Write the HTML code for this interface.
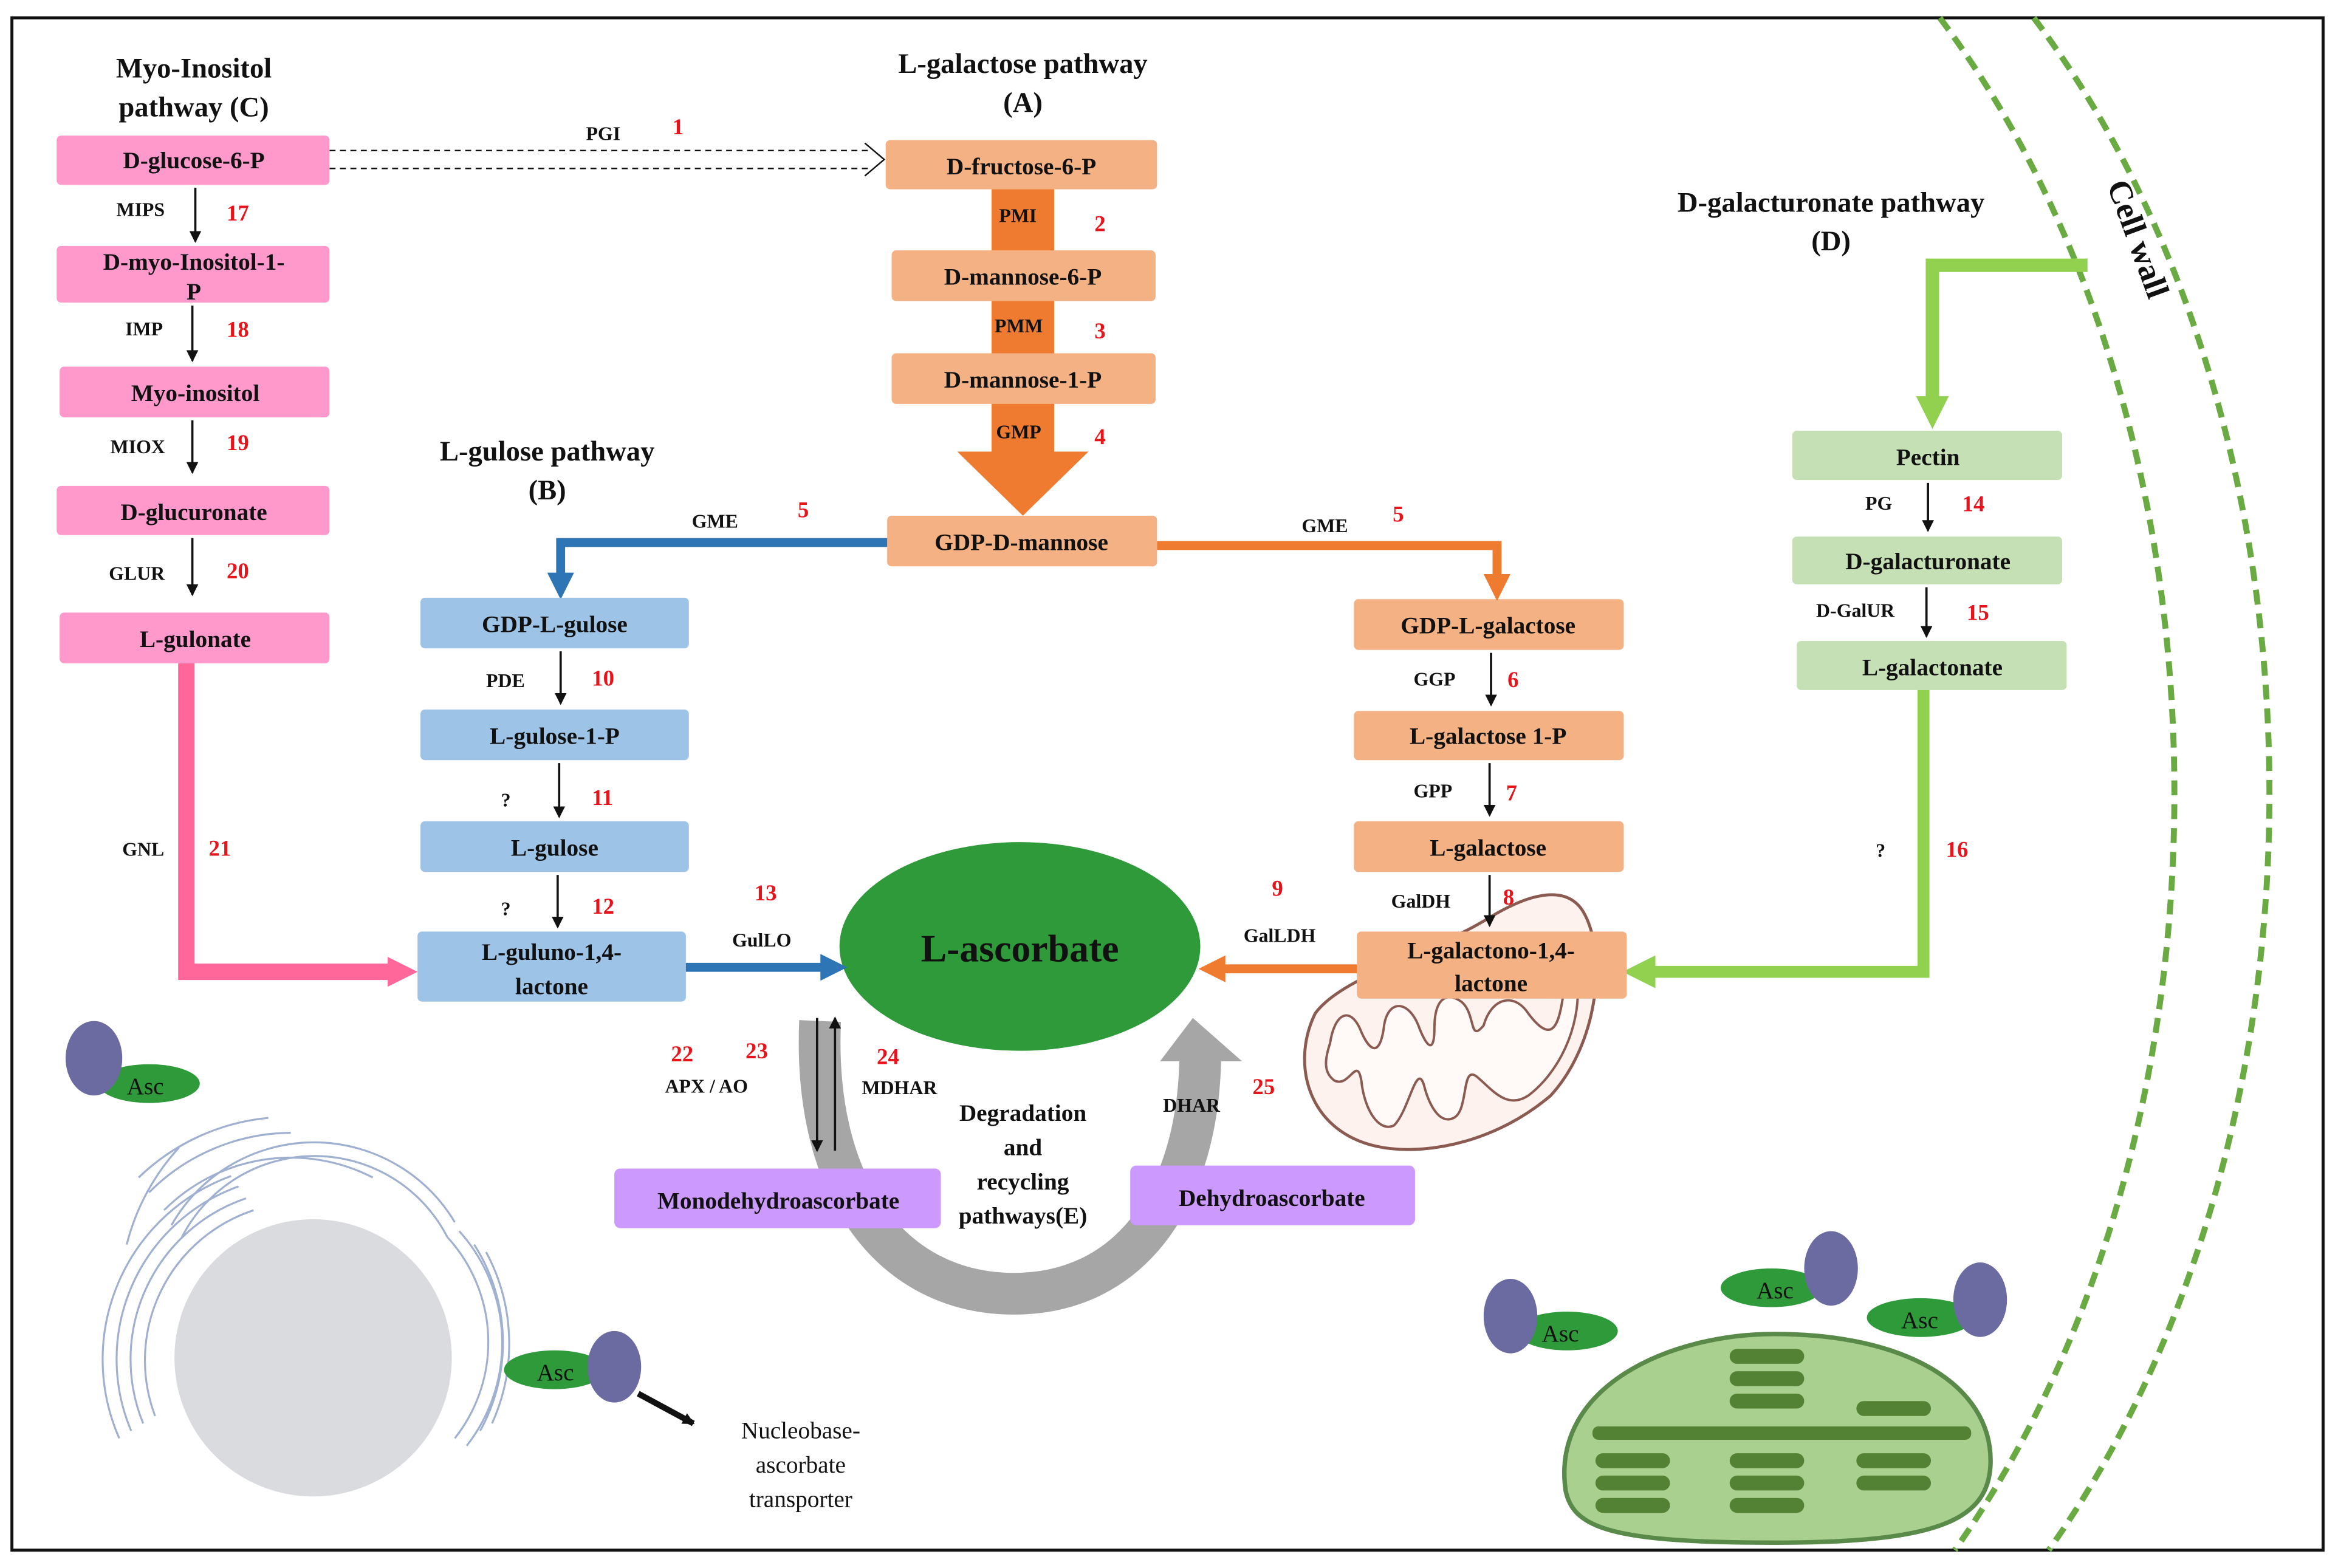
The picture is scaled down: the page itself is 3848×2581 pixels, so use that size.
<!DOCTYPE html>
<html><head><meta charset="utf-8"><style>
html,body{margin:0;padding:0;background:#fff}
svg{display:block}
text{font-family:"Liberation Serif",serif;font-weight:bold;fill:#111}
.n{fill:#e8141c;font-size:15px}
.e{font-size:13px}
.b{font-size:16px;text-anchor:middle}
.h{font-size:19px;text-anchor:middle}
</style></head><body>
<svg width="3848" height="2581" viewBox="0 0 1568 1052" preserveAspectRatio="none" xmlns="http://www.w3.org/2000/svg">
<defs>
<marker id="ak" markerWidth="8" markerHeight="8" refX="7" refY="4" orient="auto" markerUnits="userSpaceOnUse"><path d="M0,0 L8,4 L0,8 z" fill="#111"/></marker>
<marker id="ao" viewBox="0 0 10 10" markerWidth="18" markerHeight="18" refX="1" refY="5" orient="auto" markerUnits="userSpaceOnUse"><path d="M0,0 L10,5 L0,10 z" fill="#ee7b30"/></marker>
<marker id="ab" viewBox="0 0 10 10" markerWidth="18" markerHeight="18" refX="1" refY="5" orient="auto" markerUnits="userSpaceOnUse"><path d="M0,0 L10,5 L0,10 z" fill="#2e75b6"/></marker>
<marker id="ap" viewBox="0 0 10 10" markerWidth="20" markerHeight="20" refX="1" refY="5" orient="auto" markerUnits="userSpaceOnUse"><path d="M0,0 L10,5 L0,10 z" fill="#ff6699"/></marker>
<marker id="ag" viewBox="0 0 10 10" markerWidth="22" markerHeight="22" refX="1" refY="5" orient="auto" markerUnits="userSpaceOnUse"><path d="M0,0 L10,5 L0,10 z" fill="#92d050"/></marker>
</defs>
<rect x="8" y="12" width="1550" height="1028" fill="#fff" stroke="#111" stroke-width="2"/>
<!-- cell wall -->
<path d="M1301,12 C1509,290 1509,760 1311,1040" fill="none" stroke="#6aaa42" stroke-width="4" stroke-dasharray="10,6"/>
<path d="M1364,12 C1573,290 1573,760 1374,1040" fill="none" stroke="#6aaa42" stroke-width="4" stroke-dasharray="10,6"/>
<text x="1413" y="124" font-size="22" transform="rotate(70 1413 124)">Cell wall</text>
<!-- titles -->
<text class="h" x="130" y="52">Myo-Inositol</text><text class="h" x="130" y="78">pathway (C)</text>
<text class="h" x="686" y="49">L-galactose pathway</text><text class="h" x="686" y="75">(A)</text>
<text class="h" x="367" y="309">L-gulose pathway</text><text class="h" x="367" y="335">(B)</text>
<text class="h" x="1228" y="142">D-galacturonate pathway</text><text class="h" x="1228" y="168">(D)</text>
<!-- PGI dashed -->
<path d="M221,101 H585 M221,113 H585" stroke="#111" stroke-dasharray="4,3" stroke-width="1"/>
<path d="M580,96 L593,107 L580,118" fill="none" stroke="#111"/>
<text class="e" x="393" y="94">PGI</text><text class="n" x="451" y="90">1</text>
<!-- orange thick column -->
<rect x="665" y="125" width="42" height="180" fill="#ee7b30"/>
<path d="M642,303 H730 L686,346 z" fill="#ee7b30"/>
<!-- pink boxes -->
<g fill="#ff99cc">
<rect x="38" y="91" width="183" height="33" rx="3"/><rect x="38" y="165" width="183" height="38" rx="3"/>
<rect x="40" y="246" width="181" height="34" rx="3"/><rect x="38" y="326" width="183" height="33" rx="3"/><rect x="40" y="411" width="181" height="34" rx="3"/></g>
<text class="b" x="130" y="113">D-glucose-6-P</text>
<text class="b" x="130" y="181">D-myo-Inositol-1-</text><text class="b" x="130" y="201">P</text>
<text class="b" x="131" y="269">Myo-inositol</text>
<text class="b" x="130" y="349">D-glucuronate</text>
<text class="b" x="131" y="434">L-gulonate</text>
<g stroke="#111" stroke-width="1.5" marker-end="url(#ak)">
<line x1="131" y1="126" x2="131" y2="162"/><line x1="129" y1="205" x2="129" y2="242"/>
<line x1="129" y1="282" x2="129" y2="317"/><line x1="129" y1="361" x2="129" y2="399"/></g>
<text class="e" x="78" y="145">MIPS</text><text class="n" x="152" y="148">17</text>
<text class="e" x="84" y="225">IMP</text><text class="n" x="152" y="226">18</text>
<text class="e" x="74" y="304">MIOX</text><text class="n" x="152" y="302">19</text>
<text class="e" x="73" y="389">GLUR</text><text class="n" x="152" y="388">20</text>
<path d="M125,445 V652 H262" fill="none" stroke="#ff6699" stroke-width="11" marker-end="url(#ap)"/>
<text class="e" x="82" y="574">GNL</text><text class="n" x="140" y="574">21</text>
<!-- mitochondrion -->
<path d="M882,680 C900,655 960,640 1000,615 C1030,597 1052,595 1062,612 C1078,640 1072,700 1040,735 C1005,765 960,775 928,770 C878,762 865,715 882,680 z" fill="#fdf2ee" stroke="#8b5a50" stroke-width="2"/>
<path d="M892,700 C895,680 905,675 912,690 C918,705 925,710 928,690 C930,670 945,670 952,690 C958,705 962,705 962,690 C962,670 970,665 980,672 C990,680 985,700 995,688 C1000,670 1015,665 1025,680 C1040,700 1045,690 1048,670 C1052,650 1058,645 1058,660 C1060,690 1045,720 1025,735 C1010,745 1000,730 990,722 C980,715 985,745 975,750 C965,755 958,740 955,728 C950,712 945,745 935,755 C925,760 915,745 913,725 C910,708 905,730 895,725 C888,720 888,712 892,700 z" fill="#fffaf8" stroke="#8b5a50" stroke-width="1.6"/>
<!-- green -->
<path d="M1400,178 H1296 V268" fill="none" stroke="#92d050" stroke-width="9" marker-end="url(#ag)"/>
<g fill="#c5e0b4">
<rect x="1202" y="289" width="181" height="33" rx="3"/><rect x="1202" y="360" width="181" height="32" rx="3"/><rect x="1205" y="430" width="181" height="33" rx="3"/></g>
<text class="b" x="1293" y="312">Pectin</text>
<text class="b" x="1293" y="382">D-galacturonate</text>
<text class="b" x="1296" y="453">L-galactonate</text>
<text class="e" x="1251" y="342">PG</text><text class="n" x="1316" y="343">14</text>
<text class="e" x="1218" y="414">D-GalUR</text><text class="n" x="1319" y="416">15</text>
<text class="e" x="1258" y="575">?</text><text class="n" x="1305" y="575">16</text>
<g stroke="#111" stroke-width="1.5" marker-end="url(#ak)">
<line x1="1293" y1="324" x2="1293" y2="356"/><line x1="1292" y1="394" x2="1292" y2="427"/></g>
<path d="M1290,463 V652 H1108" fill="none" stroke="#92d050" stroke-width="8" marker-end="url(#ag)"/>
<!-- orange boxes -->
<g fill="#f4b183">
<rect x="594" y="94" width="182" height="33" rx="3"/><rect x="598" y="168" width="177" height="34" rx="3"/>
<rect x="598" y="237" width="177" height="34" rx="3"/><rect x="595" y="346" width="181" height="34" rx="3"/>
<rect x="908" y="402" width="181" height="34" rx="3"/><rect x="908" y="477" width="181" height="33" rx="3"/>
<rect x="908" y="551" width="181" height="34" rx="3"/><rect x="910" y="625" width="181" height="45" rx="3"/></g>
<text class="b" x="685" y="117">D-fructose-6-P</text>
<text class="b" x="686" y="191">D-mannose-6-P</text>
<text class="b" x="686" y="260">D-mannose-1-P</text>
<text class="b" x="685" y="369">GDP-D-mannose</text>
<text class="b" x="998" y="425">GDP-L-galactose</text>
<text class="b" x="998" y="499">L-galactose 1-P</text>
<text class="b" x="998" y="574">L-galactose</text>
<text class="b" x="1000" y="643">L-galactono-1,4-</text><text class="b" x="1000" y="665">lactone</text>
<text class="e" x="670" y="149">PMI</text><text class="n" x="734" y="155">2</text>
<text class="e" x="667" y="223">PMM</text><text class="n" x="734" y="227">3</text>
<text class="e" x="668" y="294">GMP</text><text class="n" x="734" y="298">4</text>
<!-- GME arrows -->
<path d="M595,364 H376 V386" fill="none" stroke="#2e75b6" stroke-width="6" marker-end="url(#ab)"/>
<path d="M776,366 H1004 V387" fill="none" stroke="#ee7b30" stroke-width="6" marker-end="url(#ao)"/>
<text class="e" x="464" y="354">GME</text><text class="n" x="535" y="347">5</text>
<text class="e" x="873" y="357">GME</text><text class="n" x="934" y="350">5</text>
<!-- blue boxes -->
<g fill="#9dc3e6">
<rect x="282" y="401" width="180" height="34" rx="3"/><rect x="282" y="476" width="180" height="34" rx="3"/>
<rect x="282" y="551" width="180" height="34" rx="3"/><rect x="280" y="625" width="180" height="47" rx="3"/></g>
<text class="b" x="372" y="424">GDP-L-gulose</text>
<text class="b" x="372" y="499">L-gulose-1-P</text>
<text class="b" x="372" y="574">L-gulose</text>
<text class="b" x="370" y="644">L-guluno-1,4-</text><text class="b" x="370" y="667">lactone</text>
<g stroke="#111" stroke-width="1.5" marker-end="url(#ak)">
<line x1="376" y1="437" x2="376" y2="472"/><line x1="375" y1="512" x2="375" y2="548"/><line x1="374" y1="587" x2="374" y2="622"/>
<line x1="1000" y1="438" x2="1000" y2="473"/><line x1="999" y1="512" x2="999" y2="547"/><line x1="999" y1="587" x2="999" y2="621"/></g>
<text class="e" x="326" y="461">PDE</text><text class="n" x="397" y="460">10</text>
<text class="e" x="336" y="541">?</text><text class="n" x="397" y="540">11</text>
<text class="e" x="336" y="614">?</text><text class="n" x="397" y="613">12</text>
<text class="e" x="948" y="460">GGP</text><text class="n" x="1011" y="461">6</text>
<text class="e" x="948" y="535">GPP</text><text class="n" x="1010" y="537">7</text>
<text class="e" x="933" y="609">GalDH</text><text class="n" x="1008" y="607">8</text>
<!-- ascorbate -->
<ellipse cx="684" cy="635" rx="121" ry="70" fill="#2e9a3a"/>
<text x="684" y="645" font-size="26" text-anchor="middle">L-ascorbate</text>
<line x1="460" y1="649" x2="552" y2="649" stroke="#2e75b6" stroke-width="6" marker-end="url(#ab)"/>
<line x1="910" y1="650" x2="820" y2="650" stroke="#ee7b30" stroke-width="6" marker-end="url(#ao)"/>
<text class="n" x="506" y="604">13</text><text class="e" x="491" y="635">GulLO</text>
<text class="n" x="853" y="601">9</text><text class="e" x="834" y="632">GalLDH</text>
<!-- grey arc -->
<path d="M550,685 C545,800 600,868 680,868 C760,868 805,800 805,705" fill="none" stroke="#a6a6a6" stroke-width="28"/>
<path d="M778,712 L800,683 L833,712 z" fill="#a6a6a6"/>
<line x1="548" y1="683" x2="548" y2="772" stroke="#111" stroke-width="1.5" marker-end="url(#ak)"/>
<line x1="560" y1="772" x2="560" y2="683" stroke="#111" stroke-width="1.5" marker-end="url(#ak)"/>
<text class="n" x="450" y="712">22</text><text class="n" x="500" y="710">23</text><text class="n" x="588" y="714">24</text>
<text class="e" x="446" y="733">APX  /  AO</text><text class="e" x="578" y="734">MDHAR</text>
<text class="e" x="780" y="746">DHAR</text><text class="n" x="840" y="734">25</text>
<text class="b" x="686" y="752">Degradation</text><text class="b" x="686" y="775">and</text>
<text class="b" x="686" y="798">recycling</text><text class="b" x="686" y="821">pathways(E)</text>
<rect x="412" y="784" width="219" height="40" rx="4" fill="#cc99ff"/>
<rect x="758" y="782" width="191" height="40" rx="4" fill="#cc99ff"/>
<text class="b" x="522" y="811">Monodehydroascorbate</text>
<text class="b" x="853" y="809">Dehydroascorbate</text>
<!-- ER -->
<g fill="none" stroke="#9fb0d0" stroke-width="1.3">
<path d="M104,950 A106,106 0 0 1 170,812"/><path d="M96,955 A114,114 0 0 1 165,804"/>
<path d="M88,960 A123,123 0 0 1 160,796"/><path d="M80,965 A131,131 0 0 1 155,789"/>
<path d="M122,830 A100,100 0 0 1 300,830"/><path d="M115,822 A110,110 0 0 1 305,820"/>
<path d="M110,812 A120,120 0 0 1 250,790"/><path d="M100,800 A135,135 0 0 1 195,760"/>
<path d="M93,790 A145,145 0 0 1 180,750"/><path d="M85,835 A150,150 0 0 1 120,770"/>
<path d="M300,830 A104,104 0 0 1 305,965"/><path d="M308,826 A112,112 0 0 1 313,970"/>
<path d="M318,835 A122,122 0 0 1 322,960"/><path d="M326,840 A130,130 0 0 1 330,955"/>
</g>
<circle cx="210" cy="911" r="93" fill="#d9dbdf"/>
<!-- Asc proteins -->
<g>
<ellipse cx="100" cy="727" rx="34" ry="13" fill="#2e9a3a"/><ellipse cx="63" cy="710" rx="19" ry="25" fill="#6b6ba1"/><text x="85" y="734" style="font-size:16px;font-weight:normal">Asc</text>
<ellipse cx="372" cy="919" rx="34" ry="13" fill="#2e9a3a"/><ellipse cx="412" cy="917" rx="18" ry="24" fill="#6b6ba1"/><text x="360" y="926" style="font-size:16px;font-weight:normal">Asc</text>
<ellipse cx="1051" cy="893" rx="34" ry="13" fill="#2e9a3a"/><ellipse cx="1013" cy="883" rx="18" ry="25" fill="#6b6ba1"/><text x="1034" y="900" style="font-size:16px;font-weight:normal">Asc</text>
<ellipse cx="1188" cy="864" rx="34" ry="13" fill="#2e9a3a"/><ellipse cx="1228" cy="851" rx="18" ry="25" fill="#6b6ba1"/><text x="1178" y="871" style="font-size:16px;font-weight:normal">Asc</text>
<ellipse cx="1288" cy="884" rx="36" ry="13" fill="#2e9a3a"/><ellipse cx="1328" cy="872" rx="18" ry="25" fill="#6b6ba1"/><text x="1275" y="891" style="font-size:16px;font-weight:normal">Asc</text>
</g>
<line x1="428" y1="935" x2="465" y2="955" stroke="#111" stroke-width="4" marker-end="url(#ak)"/>
<text x="537" y="965" font-size="16" text-anchor="middle" style="font-weight:normal">Nucleobase-</text>
<text x="537" y="988" font-size="16" text-anchor="middle" style="font-weight:normal">ascorbate</text>
<text x="537" y="1011" font-size="16" text-anchor="middle" style="font-weight:normal">transporter</text>
<!-- chloroplast -->
<path d="M1050,1000 C1040,930 1120,895 1190,895 C1280,895 1335,930 1335,980 C1335,1020 1300,1035 1190,1035 C1080,1035 1055,1025 1050,1000 z" fill="#a9d08e" stroke="#5a8a4a" stroke-width="3"/>
<g fill="#548235">
<rect x="1068" y="957" width="254" height="9" rx="4"/>
<rect x="1160" y="905" width="50" height="10" rx="5"/><rect x="1160" y="920" width="50" height="10" rx="5"/><rect x="1160" y="935" width="50" height="10" rx="5"/><rect x="1160" y="975" width="50" height="10" rx="5"/><rect x="1160" y="990" width="50" height="10" rx="5"/><rect x="1160" y="1005" width="50" height="10" rx="5"/>
<rect x="1070" y="975" width="50" height="10" rx="5"/><rect x="1070" y="990" width="50" height="10" rx="5"/><rect x="1070" y="1005" width="50" height="10" rx="5"/>
<rect x="1245" y="940" width="50" height="10" rx="5"/><rect x="1245" y="975" width="50" height="10" rx="5"/><rect x="1245" y="990" width="50" height="10" rx="5"/>
</g>
</svg>
</body></html>
